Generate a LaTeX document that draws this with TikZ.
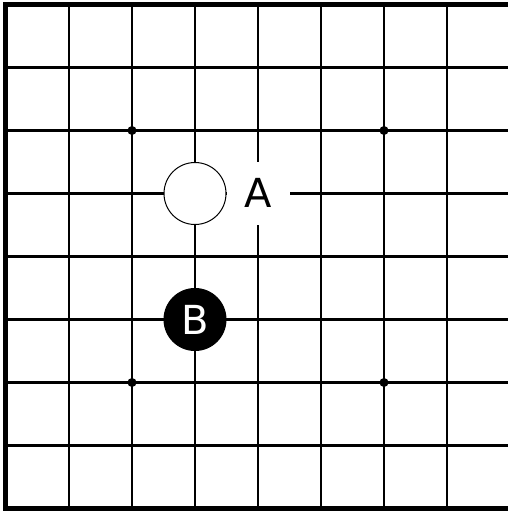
\documentclass[tikz,border=0pt]{standalone}
\usepackage{fontspec}
\setmainfont{DejaVu Sans}
\begin{document}
\begin{tikzpicture}[x=1pt,y=-1pt,
  gridline/.style={line width=2.6pt,black},
  edgeline/.style={line width=4.6pt,black},
  hoshi/.style={circle,fill=black,inner sep=0pt,minimum size=9pt},
  whitestone/.style={circle,draw=black,fill=white,line width=1pt,inner sep=0pt,minimum size=62pt},
  blackstone/.style={circle,draw=black,fill=black,line width=1pt,inner sep=0pt,minimum size=62pt,text=white,font=\fontsize{40}{40}\selectfont},
  marklabel/.style={fill=white,inner sep=0pt,minimum size=63pt,font=\fontsize{40}{40}\selectfont}]
\useasboundingbox[fill=white] (0,0) rectangle (508,512);
% grid
\foreach \i in {1,...,7} {
  \draw[gridline] ({6+63*\i},4.5) -- ({6+63*\i},508.5);
  \draw[gridline] (6,{4.5+63*\i}) -- (508,{4.5+63*\i});
}
% edges
\draw[edgeline] (5.5,2.2) -- (5.5,510.8);
\draw[edgeline] (3.2,4.5) -- (508,4.5);
\draw[edgeline] (3.2,508.5) -- (508,508.5);
% star points
\node[hoshi] (h1) at (132,130.5) {};
\node[hoshi] (h2) at (384,130.5) {};
\node[hoshi] (h3) at (132,382.5) {};
\node[hoshi] (h4) at (384,382.5) {};
% label A
\node[marklabel] (a) at (258,193) {A};
% stones
\node[whitestone] (w) at (195,193.5) {};
\node[blackstone] (b) at (195,319.5) {B};
\end{tikzpicture}
\end{document}
